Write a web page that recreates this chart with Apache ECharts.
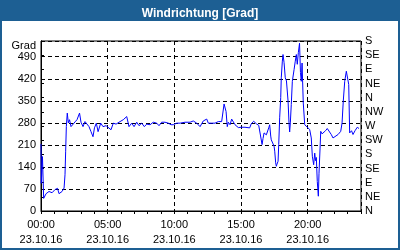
<!DOCTYPE html>
<html>
<head>
<meta charset="utf-8">
<script src="https://cdn.jsdelivr.net/npm/echarts@6/dist/echarts.min.js"></script>
<style>
html,body{margin:0;padding:0;}
body{width:400px;height:250px;background:#1d5f93;position:relative;overflow:hidden;}
#bg{position:absolute;left:2px;top:21px;width:396px;height:227px;background:#fff;}
#c{position:absolute;left:0;top:0;width:400px;height:250px;}
</style>
</head>
<body>
<div id="bg"></div>
<div id="c"></div>
<script>
const titleText = 'Windrichtung [Grad]';
const yName = 'Grad';
const dateLabel = '23.10.16';
const timeLabels = ['00:00', '05:00', '10:00', '15:00', '20:00'];
const dirLabels = ['N','NE','E','SE','S','SW','W','NW','N','NE','E','SE','S'];

const hours = [0.00,0.02,0.11,0.20,0.38,0.60,0.83,1.05,1.24,1.35,1.46,1.58,1.73,1.80,1.85,1.90,1.97,2.05,2.14,2.25,2.40,2.55,2.70,2.89,3.00,3.15,3.30,3.45,3.60,3.75,3.90,4.01,4.15,4.28,4.48,4.65,4.88,5.03,5.25,5.42,5.63,5.93,6.17,6.43,6.60,6.80,6.98,7.18,7.35,7.55,7.75,7.93,8.18,8.42,8.68,8.85,9.05,9.30,9.55,9.75,9.92,10.18,10.43,10.80,11.18,11.42,11.68,11.93,12.17,12.43,12.55,12.80,13.05,13.30,13.43,13.55,13.73,13.88,13.97,14.05,14.18,14.30,14.55,14.80,15.00,15.30,15.65,15.77,15.95,16.15,16.33,16.48,16.58,16.65,16.73,16.82,16.90,16.97,17.08,17.15,17.23,17.27,17.35,17.40,17.48,17.53,17.60,17.65,17.70,17.78,17.83,17.90,17.98,18.02,18.10,18.15,18.23,18.32,18.41,18.53,18.60,18.65,18.70,18.77,18.85,18.98,19.07,19.15,19.22,19.30,19.39,19.46,19.52,19.58,19.67,19.78,19.93,20.15,20.27,20.35,20.45,20.53,20.59,20.65,20.72,20.80,20.85,20.93,20.98,21.08,21.23,21.34,21.47,21.60,21.77,21.90,22.05,22.28,22.48,22.58,22.67,22.78,22.90,22.97,23.08,23.15,23.29,23.40,23.55,23.72,23.85];

const degrees = [213,88,173,40,55,62,58,68,72,55,50,62,73,115,190,268,311,280,290,268,274,283,290,311,282,268,284,290,268,252,236,264,279,252,279,268,271,268,258,279,276,284,290,300,268,279,268,282,271,279,268,276,274,282,279,271,282,282,279,274,274,279,279,282,282,286,279,268,286,292,279,279,279,284,279,284,340,316,268,282,274,292,274,265,266,266,264,277,285,277,272,266,211,230,248,251,242,248,264,274,238,226,232,222,206,190,153,142,149,158,211,296,360,423,476,497,471,423,413,349,280,251,280,338,412,449,476,497,466,503,533,440,412,470,343,274,268,259,232,174,147,184,160,170,94,47,120,200,253,245,248,255,262,260,243,232,234,243,253,280,349,412,444,449,402,248,255,243,255,266,262];

const data = hours.map((h, i) => [h, degrees[i]]);
const font = 'Liberation Sans';

const chart = echarts.init(document.getElementById('c'), null, {renderer: 'canvas'});
chart.setOption({
  animation: false,
  backgroundColor: 'transparent',
  textStyle: {fontFamily: font},
  title: {
    text: titleText, left: 'center', top: 3,
    textStyle: {color: '#fff', fontSize: 12, fontWeight: 'bold', fontFamily: font}
  },
  grid: {left: 41, right: 39, top: 41, bottom: 39, containLabel: false,
         show: true, borderColor: '#000', borderWidth: 1, backgroundColor: 'transparent'},
  xAxis: [{
    type: 'value', min: 0, max: 24, interval: 5, position: 'bottom',
    axisLine: {show: true, lineStyle: {color: '#000', width: 1}},
    axisTick: {show: false},
    splitLine: {show: true, lineStyle: {color: '#000', type: [4, 3], width: 1}},
    axisLabel: {
      color: '#000', fontSize: 11, fontFamily: font, margin: 6, lineHeight: 15,
      formatter: v => { const i = Math.round(v / 5); return (v % 5 === 0 && i < timeLabels.length) ? timeLabels[i] + '\n' + dateLabel : ''; }
    }
  }, {
    type: 'value', min: 0, max: 24, interval: 1, position: 'bottom',
    axisLine: {show: false},
    axisTick: {show: true, length: 3, inside: false, lineStyle: {color: '#000'}},
    axisLabel: {show: false},
    splitLine: {show: false}
  }],
  yAxis: [{
    type: 'value', min: 0, max: 540, interval: 70, position: 'left',
    name: yName, nameLocation: 'end', nameGap: -5,
    nameTextStyle: {color: '#000', fontSize: 11, fontFamily: font, align: 'right', verticalAlign: 'middle', padding: [0, 5, 0, 0]},
    axisLine: {show: true, lineStyle: {color: '#000', width: 1}},
    axisTick: {show: false},
    splitLine: {show: true, lineStyle: {color: '#000', type: [4, 3], width: 1}},
    axisLabel: {color: '#000', fontSize: 11, fontFamily: font, margin: 5,
      formatter: v => (v % 70 === 0 && v <= 490) ? String(v) : ''}
  }, {
    type: 'value', min: 0, max: 540, interval: 45, position: 'right',
    axisLine: {show: true, lineStyle: {color: '#000', width: 1}},
    axisTick: {show: true, length: 3, lineStyle: {color: '#000'}},
    splitLine: {show: false},
    axisLabel: {color: '#000', fontSize: 11, fontFamily: font, margin: 4,
      formatter: v => dirLabels[Math.round(v / 45)] || ''}
  }],
  series: [{
    type: 'line', xAxisIndex: 0, yAxisIndex: 0, data: data,
    showSymbol: false, symbol: 'none',
    lineStyle: {color: '#0000ff', width: 1}, z: 3
  }]
});
</script>
</body>
</html>
